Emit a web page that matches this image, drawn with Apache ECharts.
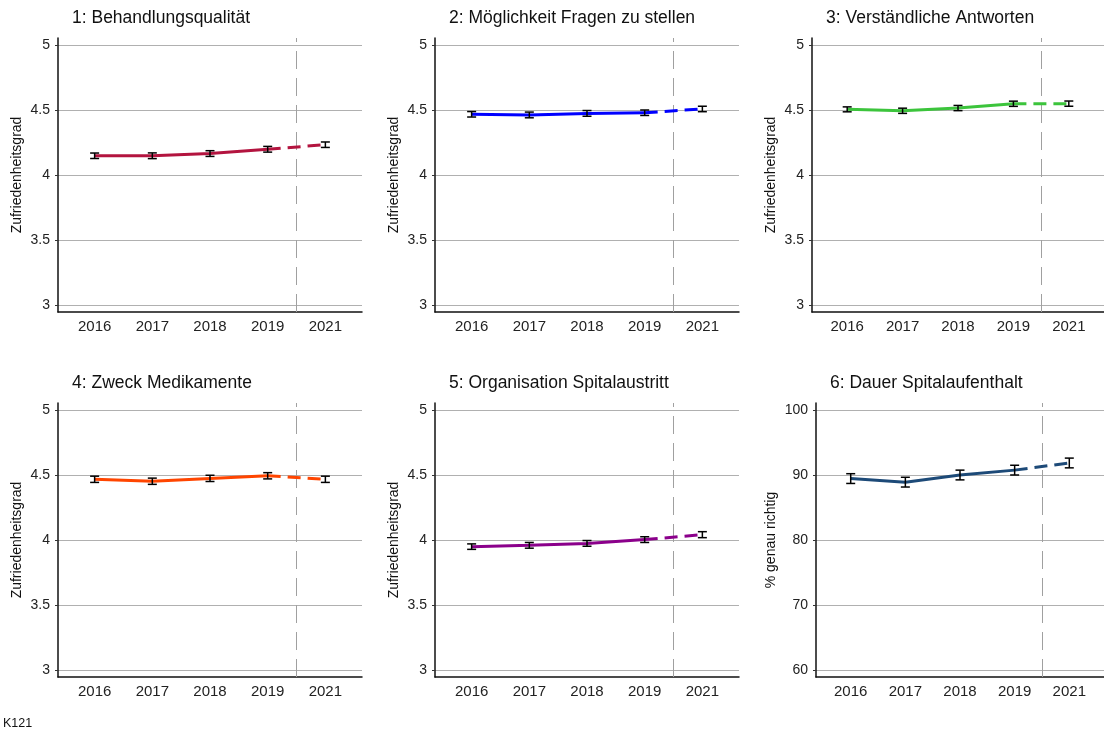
<!DOCTYPE html>
<html><head><meta charset="utf-8">
<script src="https://cdn.jsdelivr.net/npm/echarts@6/dist/echarts.min.js"></script>
<style>html,body{margin:0;padding:0;background:#fff}#c{width:1104px;height:733px}</style>
</head><body><div id="c"></div>
<script>
// ---- data ----
const years = ['2016', '2017', '2018', '2019', '2021'];
const titles = ['1: Behandlungsqualität', '2: Möglichkeit Fragen zu stellen', '3: Verständliche Antworten',
                '4: Zweck Medikamente', '5: Organisation Spitalaustritt', '6: Dauer Spitalaufenthalt'];
const yNames = ['Zufriedenheitsgrad', 'Zufriedenheitsgrad', 'Zufriedenheitsgrad',
                'Zufriedenheitsgrad', 'Zufriedenheitsgrad', '% genau richtig'];
const colors = ['#b3143f', '#0000ff', '#3cc43c', '#ff4500', '#8b008b', '#1d4a78'];

const values1 = [4.148, 4.148, 4.165, 4.198, 4.233];
const errors1 = [0.021, 0.022, 0.022, 0.022, 0.021];
const values2 = [4.467, 4.462, 4.474, 4.479, 4.508];
const errors2 = [0.021, 0.022, 0.022, 0.021, 0.021];
const values3 = [4.505, 4.494, 4.515, 4.548, 4.549];
const errors3 = [0.019, 0.020, 0.020, 0.020, 0.020];
const values4 = [4.467, 4.452, 4.474, 4.494, 4.467];
const errors4 = [0.024, 0.024, 0.024, 0.024, 0.024];
const values5 = [3.949, 3.959, 3.974, 4.003, 4.041];
const errors5 = [0.021, 0.022, 0.022, 0.022, 0.023];
const values6 = [89.45, 88.9, 90.0, 90.75, 91.85];
const errors6 = [0.75, 0.75, 0.75, 0.75, 0.75];

const yTicksScore = [3, 3.5, 4, 4.5, 5];
const yTicksPct = [60, 70, 80, 90, 100];
const footnote = 'K121';

// ---- layout ----
const allValues = [values1, values2, values3, values4, values5, values6];
const allErrors = [errors1, errors2, errors3, errors4, errors5, errors6];
const allTicks = [yTicksScore, yTicksScore, yTicksScore, yTicksScore, yTicksScore, yTicksPct];
const lefts = [58, 435, 812, 58, 435, 816];
const widths = [304, 304, 304, 304, 304, 302];
const tops = [38, 38, 38, 403, 403, 403];
const nameGaps = [34, 34, 34, 34, 34, 38];
const H = 274;
const FONT = '"Liberation Sans", Arial, sans-serif';

const grid = [], xAxis = [], yAxis = [], series = [], title = [];
for (let i = 0; i < 6; i++) {
  grid.push({ left: lefts[i], top: tops[i], width: widths[i], height: H, containLabel: false });
  const ticks = allTicks[i];
  const lo = ticks[0], hi = ticks[ticks.length - 1];
  const pad = (hi - lo) * 7 / 260;
  const xIdx = years.map((_, j) => j + 1);
  xAxis.push({
    type: 'value', gridIndex: i, min: 1 - 0.635, max: years.length + 0.635,
    axisLine: { show: true, onZero: false, lineStyle: { color: '#111', width: 1.5 } },
    axisTick: { show: false },
    splitLine: { show: false },
    axisLabel: { customValues: xIdx, formatter: v => years[Math.round(v) - 1] || '',
      fontSize: 15, color: '#222', fontFamily: FONT, margin: 7 }
  });
  yAxis.push({
    type: 'value', gridIndex: i, min: lo - pad, max: hi + pad,
    name: yNames[i], nameLocation: 'middle', nameGap: nameGaps[i],
    nameTextStyle: { fontSize: 14, color: '#111', fontFamily: FONT },
    axisLine: { show: true, onZero: false, lineStyle: { color: '#111', width: 1.5 } },
    axisTick: { show: true, length: 3, customValues: ticks, lineStyle: { color: '#333', width: 1 } },
    axisLabel: { customValues: ticks, fontSize: 14, color: '#222', fontFamily: FONT, margin: 8 },
    splitLine: { show: true, lineStyle: { color: '#b0b0b0', width: 1 } }
  });
  title.push({ text: titles[i], left: lefts[i] + 14, top: tops[i] - 29, padding: 0,
    textStyle: { fontSize: 17.5, fontWeight: 'normal', color: '#111', fontFamily: FONT } });

  const vals = allValues[i], errs = allErrors[i];
  series.push({
    type: 'line', xAxisIndex: i, yAxisIndex: i, showSymbol: false, symbol: 'none', z: 2,
    data: vals.slice(0, 4).map((v, j) => [j + 1, v]),
    lineStyle: { color: colors[i], width: 3 },
    markLine: { silent: true, symbol: 'none', label: { show: false }, z: 1,
      lineStyle: { color: '#a0a0a0', width: 1, type: [18, 9] },
      data: [{ xAxis: 4.5 }] }
  });
  series.push({
    type: 'line', xAxisIndex: i, yAxisIndex: i, showSymbol: false, symbol: 'none', z: 2,
    data: [[4, vals[3]], [5, vals[4]]],
    lineStyle: { color: colors[i], width: 3, type: [13, 7] }
  });
  series.push({
    type: 'custom', xAxisIndex: i, yAxisIndex: i, z: 3,
    data: vals.map((v, j) => [j + 1, v - errs[j], v + errs[j]]),
    encode: { x: 0, y: [1, 2] },
    renderItem: function (params, api) {
      const x = api.value(0);
      const p1 = api.coord([x, api.value(1)]);
      const p2 = api.coord([x, api.value(2)]);
      const hw = 4.5;
      const st = { stroke: '#000', lineWidth: 1.5 };
      return { type: 'group', children: [
        { type: 'line', shape: { x1: p1[0], y1: p1[1], x2: p2[0], y2: p2[1] }, style: st },
        { type: 'line', shape: { x1: p1[0] - hw, y1: p1[1], x2: p1[0] + hw, y2: p1[1] }, style: st },
        { type: 'line', shape: { x1: p2[0] - hw, y1: p2[1], x2: p2[0] + hw, y2: p2[1] }, style: st }
      ] };
    }
  });
}
title.push({ text: footnote, left: 3, top: 717, padding: 0,
  textStyle: { fontSize: 12.5, fontWeight: 'normal', color: '#111', fontFamily: FONT } });

const chart = echarts.init(document.getElementById('c'), null, { renderer: 'canvas' });
chart.setOption({ backgroundColor: '#fff', animation: false, title, grid, xAxis, yAxis, series });
</script>
</body></html>
